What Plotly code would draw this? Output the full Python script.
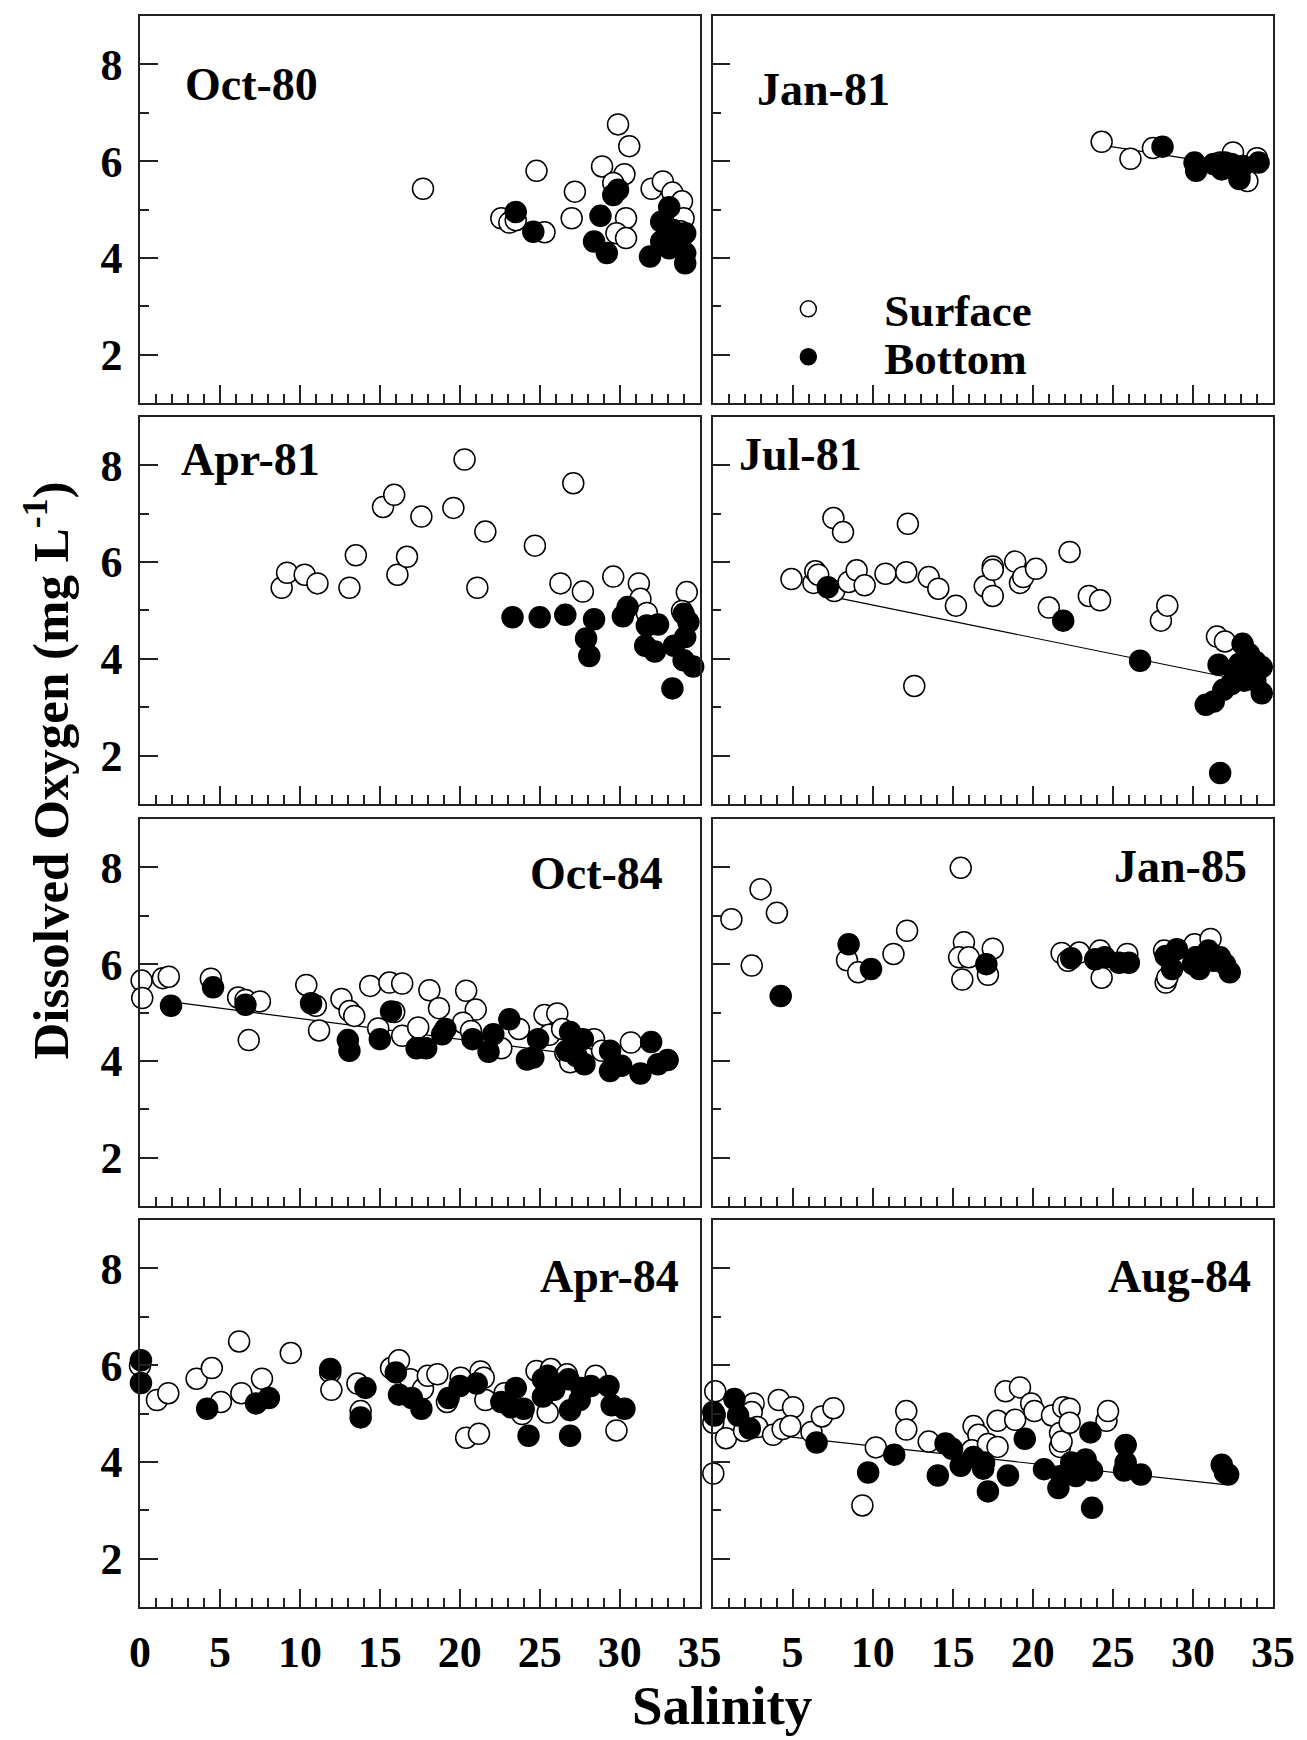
import plotly.graph_objects as go

FONT = "Liberation Serif, Times New Roman, serif"

# ---------------- data (salinity, dissolved oxygen mg/L) ----------------
panel_names = ["Oct-80", "Jan-81", "Apr-81", "Jul-81", "Oct-84", "Jan-85", "Apr-84", "Aug-84"]

oct80_surf_sal = [17.7, 24.8, 22.6, 23.1, 23.5, 25.3, 27.2, 27.0, 28.9, 29.9, 30.6, 30.3, 29.6, 30.4, 29.8, 30.4, 32.0, 32.7, 33.3, 33.9, 34.0, 33.8]
oct80_surf_do = [5.43, 5.80, 4.82, 4.73, 4.78, 4.53, 5.37, 4.82, 5.89, 6.76, 6.31, 5.73, 5.55, 4.82, 4.51, 4.41, 5.43, 5.58, 5.35, 5.17, 4.82, 4.55]
oct80_bot_sal = [23.5, 24.6, 28.8, 28.4, 29.2, 29.6, 29.9, 31.9, 33.1, 32.6, 33.3, 32.6, 33.6, 33.1, 34.1, 34.1, 34.1, 33.7]
oct80_bot_do = [4.95, 4.54, 4.87, 4.34, 4.10, 5.30, 5.41, 4.03, 5.05, 4.75, 4.58, 4.34, 4.30, 4.20, 4.51, 4.10, 3.89, 4.37]

jan81_surf_sal = [24.3, 26.1, 27.5, 31.7, 32.5, 33.4, 34.0, 32.9]
jan81_surf_do = [6.40, 6.05, 6.27, 5.97, 6.18, 5.59, 6.06, 5.70]
jan81_bot_sal = [28.1, 30.1, 30.2, 31.3, 31.8, 32.4, 32.9, 33.1, 34.1, 32.0]
jan81_bot_do = [6.30, 5.97, 5.80, 5.94, 5.83, 5.94, 5.63, 5.90, 5.97, 5.97]
jan81_fit_sal = [24.3, 33.5]
jan81_fit_do = [6.33, 5.85]

apr81_surf_sal = [8.86, 9.2, 10.3, 11.1, 13.1, 13.5, 15.2, 15.9, 16.1, 16.7, 17.6, 19.6, 20.3, 21.1, 21.6, 24.7, 26.3, 27.1, 27.7, 29.6, 31.2, 31.3, 31.7, 34.2, 33.9]
apr81_surf_do = [5.47, 5.78, 5.74, 5.56, 5.47, 6.14, 7.14, 7.39, 5.74, 6.11, 6.94, 7.12, 8.12, 5.47, 6.63, 6.34, 5.56, 7.63, 5.39, 5.70, 5.56, 5.24, 4.95, 5.38, 4.99]
apr81_bot_sal = [23.3, 25.0, 26.6, 28.4, 27.9, 28.1, 30.2, 30.5, 31.7, 32.4, 31.6, 32.2, 33.3, 33.4, 34.0, 34.3, 34.1, 34.0, 34.6]
apr81_bot_do = [4.86, 4.86, 4.91, 4.82, 4.42, 4.06, 4.88, 5.07, 4.69, 4.71, 4.27, 4.15, 3.39, 4.27, 4.93, 4.76, 4.45, 3.97, 3.84]

jul81_surf_sal = [4.93, 6.3, 6.42, 6.6, 7.55, 8.15, 7.6, 8.5, 9.0, 9.5, 10.8, 12.1, 12.2, 12.6, 13.5, 14.1, 15.2, 17.0, 17.5, 17.5, 17.5, 18.9, 19.2, 19.4, 20.2, 22.3, 21.0, 23.5, 24.2, 28.0, 28.4, 31.5, 32.0]
jul81_surf_do = [5.65, 5.57, 5.81, 5.74, 6.91, 6.62, 5.40, 5.59, 5.83, 5.52, 5.76, 5.79, 6.79, 3.44, 5.69, 5.45, 5.10, 5.50, 5.91, 5.84, 5.30, 6.01, 5.57, 5.69, 5.86, 6.21, 5.06, 5.30, 5.21, 4.79, 5.10, 4.46, 4.36]
jul81_bot_sal = [7.2, 21.9, 26.7, 31.6, 31.7, 30.8, 31.3, 31.9, 32.6, 33.1, 33.5, 32.9, 33.9, 34.3, 34.3, 33.9, 33.2, 32.4]
jul81_bot_do = [5.48, 4.79, 3.96, 3.88, 1.64, 3.05, 3.12, 3.36, 3.71, 4.31, 4.10, 3.90, 3.94, 3.83, 3.29, 3.55, 3.55, 3.48]
jul81_fit_sal = [7.2, 32.0]
jul81_fit_do = [5.30, 3.63]

oct84_surf_sal = [0.1, 0.14, 1.43, 1.8, 4.43, 6.14, 6.6, 7.5, 6.8, 10.4, 11.0, 11.2, 12.6, 13.1, 13.4, 14.4, 15.6, 16.4, 15.9, 14.9, 16.4, 17.4, 18.1, 18.7, 20.4, 21.0, 20.2, 20.7, 22.6, 23.7, 25.3, 26.1, 25.6, 26.6, 26.9, 28.4, 28.9, 30.7, 26.4]
oct84_surf_do = [5.66, 5.30, 5.71, 5.74, 5.70, 5.31, 5.26, 5.23, 4.43, 5.57, 5.14, 4.63, 5.28, 5.03, 4.93, 5.55, 5.62, 5.60, 5.01, 4.67, 4.52, 4.69, 5.46, 5.09, 5.45, 5.06, 4.79, 4.62, 4.26, 4.66, 4.95, 4.98, 4.54, 4.17, 3.97, 4.45, 4.21, 4.38, 4.66]
oct84_bot_sal = [1.94, 4.57, 6.6, 10.7, 13.0, 13.1, 15.0, 15.7, 17.3, 17.9, 18.9, 19.1, 20.8, 21.8, 22.1, 23.1, 24.2, 24.9, 24.6, 26.9, 27.7, 26.7, 27.3, 27.8, 29.4, 29.4, 30.1, 31.3, 31.97, 32.4, 33.0]
oct84_bot_do = [5.14, 5.52, 5.16, 5.19, 4.43, 4.21, 4.45, 5.02, 4.26, 4.26, 4.55, 4.66, 4.45, 4.19, 4.55, 4.86, 4.03, 4.45, 4.07, 4.60, 4.45, 4.21, 4.10, 3.93, 4.21, 3.79, 3.90, 3.74, 4.39, 3.93, 4.02]
oct84_fit_sal = [2.0, 28.5]
oct84_fit_do = [5.22, 4.08]

jan85_surf_sal = [1.18, 3.0, 4.02, 2.45, 8.4, 9.1, 11.3, 12.15, 15.5, 15.7, 15.4, 16.0, 15.6, 17.5, 17.2, 21.8, 22.2, 22.9, 24.2, 24.3, 25.9, 28.3, 28.4, 28.2, 30.1, 31.1, 30.2]
jan85_surf_do = [6.93, 7.55, 7.06, 5.97, 6.08, 5.83, 6.21, 6.69, 7.99, 6.45, 6.14, 6.14, 5.68, 6.32, 5.78, 6.23, 6.07, 6.24, 6.28, 5.72, 6.21, 5.62, 5.72, 6.28, 6.41, 6.52, 6.14]
jan85_bot_sal = [4.26, 8.5, 9.9, 17.1, 22.4, 23.9, 24.5, 25.4, 26.0, 28.3, 28.7, 29.0, 30.0, 30.2, 30.96, 30.4, 31.7, 32.0, 32.3, 31.3]
jan85_bot_do = [5.34, 6.41, 5.90, 6.00, 6.12, 6.10, 6.14, 6.03, 6.03, 6.17, 5.90, 6.31, 6.00, 6.14, 6.28, 5.90, 6.14, 6.00, 5.83, 6.07]

apr84_surf_sal = [0.0, 1.06, 1.77, 3.54, 4.49, 5.06, 6.2, 6.34, 7.63, 9.43, 11.9, 11.97, 13.6, 13.8, 15.7, 16.2, 16.9, 17.7, 18.0, 18.6, 19.2, 20.06, 20.4, 21.2, 21.3, 21.5, 21.6, 22.8, 23.9, 24.8, 25.7, 25.5, 26.7, 28.5, 29.8]
apr84_surf_do = [5.99, 5.28, 5.42, 5.72, 5.94, 5.24, 6.49, 5.42, 5.72, 6.25, 5.85, 5.49, 5.62, 5.05, 5.94, 6.10, 5.71, 5.51, 5.78, 5.81, 5.24, 5.74, 4.50, 4.58, 5.87, 5.74, 5.28, 5.42, 4.99, 5.88, 5.92, 5.02, 5.81, 5.78, 4.65]
apr84_bot_sal = [0.06, 0.06, 4.2, 7.26, 8.06, 11.9, 13.8, 14.1, 16.0, 16.2, 17.0, 17.6, 19.3, 20.0, 21.06, 22.6, 23.5, 23.2, 24.0, 24.3, 25.2, 25.5, 25.2, 25.9, 26.8, 26.9, 26.9, 27.5, 28.2, 27.6, 29.3, 29.5, 30.3]
apr84_bot_do = [6.10, 5.63, 5.10, 5.21, 5.32, 5.92, 4.92, 5.53, 5.85, 5.39, 5.32, 5.10, 5.32, 5.57, 5.62, 5.24, 5.53, 5.13, 5.10, 4.54, 5.71, 5.78, 5.35, 5.49, 5.71, 5.07, 4.54, 5.28, 5.57, 5.53, 5.57, 5.17, 5.10]

aug84_surf_sal = [0.05, 0.17, 0.12, 0.05, 0.84, 1.97, 2.57, 2.45, 2.8, 3.78, 4.14, 4.38, 5.03, 4.86, 6.18, 6.83, 7.55, 9.36, 10.2, 12.1, 12.1, 13.5, 16.3, 16.6, 16.2, 17.2, 17.8, 17.8, 18.3, 18.9, 19.2, 19.9, 20.1, 21.2, 21.9, 22.3, 21.7, 21.7, 21.8, 22.3, 24.6, 24.7]
aug84_surf_do = [3.76, 5.46, 4.99, 4.81, 4.49, 4.64, 5.21, 5.03, 4.72, 4.56, 5.28, 4.68, 5.13, 4.74, 4.62, 4.94, 5.11, 3.10, 4.30, 5.05, 4.67, 4.42, 4.74, 4.56, 4.24, 4.37, 4.31, 4.85, 5.46, 4.87, 5.54, 5.21, 5.05, 4.96, 5.13, 5.10, 4.60, 4.31, 4.42, 4.81, 4.85, 5.05]
aug84_bot_sal = [0.05, 0.12, 1.37, 1.6, 2.33, 6.5, 9.72, 11.35, 14.07, 14.55, 14.96, 15.5, 16.3, 16.9, 16.96, 17.2, 18.45, 19.5, 20.7, 21.6, 21.8, 22.4, 22.7, 23.3, 23.6, 23.7, 23.7, 25.8, 25.7, 25.8, 26.75, 31.8, 32.2, 32.0]
aug84_bot_do = [5.03, 4.96, 5.30, 4.96, 4.69, 4.40, 3.78, 4.15, 3.72, 4.38, 4.27, 3.92, 4.10, 3.86, 3.99, 3.39, 3.72, 4.48, 3.85, 3.46, 3.71, 3.99, 3.71, 4.05, 4.61, 3.05, 3.82, 4.35, 3.82, 3.99, 3.74, 3.94, 3.74, 3.78]
aug84_fit_sal = [0.0, 32.0]
aug84_fit_do = [4.69, 3.53]

x_tick_vals_left = [0, 5, 10, 15, 20, 25, 30, 35]
x_tick_vals_right = [5, 10, 15, 20, 25, 30, 35]
y_tick_vals = [2, 4, 6, 8]

panels = [
    (oct80_surf_sal, oct80_surf_do, oct80_bot_sal, oct80_bot_do, None, None),
    (jan81_surf_sal, jan81_surf_do, jan81_bot_sal, jan81_bot_do, jan81_fit_sal, jan81_fit_do),
    (apr81_surf_sal, apr81_surf_do, apr81_bot_sal, apr81_bot_do, None, None),
    (jul81_surf_sal, jul81_surf_do, jul81_bot_sal, jul81_bot_do, jul81_fit_sal, jul81_fit_do),
    (oct84_surf_sal, oct84_surf_do, oct84_bot_sal, oct84_bot_do, oct84_fit_sal, oct84_fit_do),
    (jan85_surf_sal, jan85_surf_do, jan85_bot_sal, jan85_bot_do, None, None),
    (apr84_surf_sal, apr84_surf_do, apr84_bot_sal, apr84_bot_do, None, None),
    (aug84_surf_sal, aug84_surf_do, aug84_bot_sal, aug84_bot_do, aug84_fit_sal, aug84_fit_do),
]

# ---------------- layout geometry ----------------
col_domains = [[0.0, 0.4939], [0.5053, 1.0]]
row_domains = [[0.7567, 1.0], [0.5047, 0.7480], [0.2520, 0.4953], [0.0, 0.2432]]

# label placement: (x frac, y frac, anchor)
label_pos = [
    (0.076, 0.822, "left"), (0.076, 0.811, "left"),
    (0.070, 0.890, "left"), (0.044, 0.902, "left"),
    (0.938, 0.860, "right"), (0.958, 0.876, "right"),
    (0.966, 0.855, "right"), (0.964, 0.855, "right"),
]

LINE_C = "#222222"
fig = go.Figure()

for i, (ss, sd, bs, bd, fs, fd) in enumerate(panels):
    n = i + 1
    xa = "x" if n == 1 else f"x{n}"
    ya = "y" if n == 1 else f"y{n}"
    if fs is not None:
        fig.add_trace(go.Scatter(x=fs, y=fd, mode="lines", xaxis=xa, yaxis=ya,
                                 line=dict(color="black", width=1.2), showlegend=False,
                                 hoverinfo="skip"))
    fig.add_trace(go.Scatter(
        x=ss, y=sd, mode="markers", xaxis=xa, yaxis=ya, name="Surface",
        marker=dict(size=21, color="white", line=dict(color="black", width=1.5)),
        showlegend=(n == 2), legend="legend", cliponaxis=False))
    fig.add_trace(go.Scatter(
        x=bs, y=bd, mode="markers", xaxis=xa, yaxis=ya, name="Bottom",
        marker=dict(size=21, color="black", line=dict(color="black", width=1.5)),
        showlegend=(n == 2), legend="legend2", cliponaxis=False))

tick_font = dict(family=FONT, size=44, color="black", weight="bold")
layout_axes = {}
for i in range(8):
    n = i + 1
    r, c = i // 2, i % 2
    xkey = "xaxis" if n == 1 else f"xaxis{n}"
    ykey = "yaxis" if n == 1 else f"yaxis{n}"
    ya = "y" if n == 1 else f"y{n}"
    xa = "x" if n == 1 else f"x{n}"
    last_row = (r == 3)
    layout_axes[xkey] = dict(
        domain=col_domains[c], anchor=ya, range=[0, 35],
        showline=True, mirror=True, linecolor=LINE_C, linewidth=1.5,
        ticks="inside", ticklen=18, tickwidth=1.5, tickcolor=LINE_C,
        tickmode="array", tickvals=(x_tick_vals_left if c == 0 else x_tick_vals_right),
        showticklabels=last_row, tickfont=tick_font, ticklabelstandoff=5,
        showgrid=False, zeroline=False,
        minor=dict(ticks="inside", ticklen=9, tickwidth=1.5, tickcolor=LINE_C,
                   dtick=1, tick0=0, showgrid=False),
    )
    layout_axes[ykey] = dict(
        domain=row_domains[r], anchor=xa, range=[1, 9],
        showline=True, mirror=True, linecolor=LINE_C, linewidth=1.5,
        ticks="inside", ticklen=18, tickwidth=1.5, tickcolor=LINE_C,
        tickmode="array", tickvals=y_tick_vals,
        showticklabels=(c == 0), tickfont=tick_font, ticklabelstandoff=7,
        showgrid=False, zeroline=False,
        minor=dict(ticks="inside", ticklen=9, tickwidth=1.5, tickcolor=LINE_C,
                   dtick=1, tick0=1, showgrid=False),
    )

annotations = []
for i, name in enumerate(panel_names):
    n = i + 1
    xa = "x" if n == 1 else f"x{n}"
    ya = "y" if n == 1 else f"y{n}"
    fx, fy, anc = label_pos[i]
    annotations.append(dict(
        text=name, xref=f"{xa} domain", yref=f"{ya} domain", x=fx, y=fy,
        xanchor=anc, yanchor="middle", showarrow=False,
        font=dict(family=FONT, size=46, color="black", weight="bold")))

annotations.append(dict(
    text="Dissolved Oxygen (mg L<sup>-1</sup>)", xref="paper", yref="paper",
    x=-0.0825, y=0.5255, xanchor="center", yanchor="middle", textangle=-90,
    showarrow=False, font=dict(family=FONT, size=51, color="black", weight="bold")))
annotations.append(dict(
    text="Salinity", xref="paper", yref="paper", x=0.514, y=-0.062,
    xanchor="center", yanchor="middle", showarrow=False,
    font=dict(family=FONT, size=55, color="black", weight="bold")))

leg_font = dict(family=FONT, size=45, color="black", weight="bold")
fig.update_layout(
    width=1307, height=1740,
    margin=dict(l=140, r=27, t=16, b=133),
    paper_bgcolor="white", plot_bgcolor="white",
    annotations=annotations,
    legend=dict(x=0.5228, y=0.8158, xanchor="left", yanchor="middle",
                bgcolor="rgba(0,0,0,0)", borderwidth=0, font=leg_font,
                itemwidth=142),
    legend2=dict(x=0.5228, y=0.7857, xanchor="left", yanchor="middle",
                 bgcolor="rgba(0,0,0,0)", borderwidth=0, font=leg_font,
                 itemwidth=142),
    **layout_axes,
)

fig.write_html("out.html")
